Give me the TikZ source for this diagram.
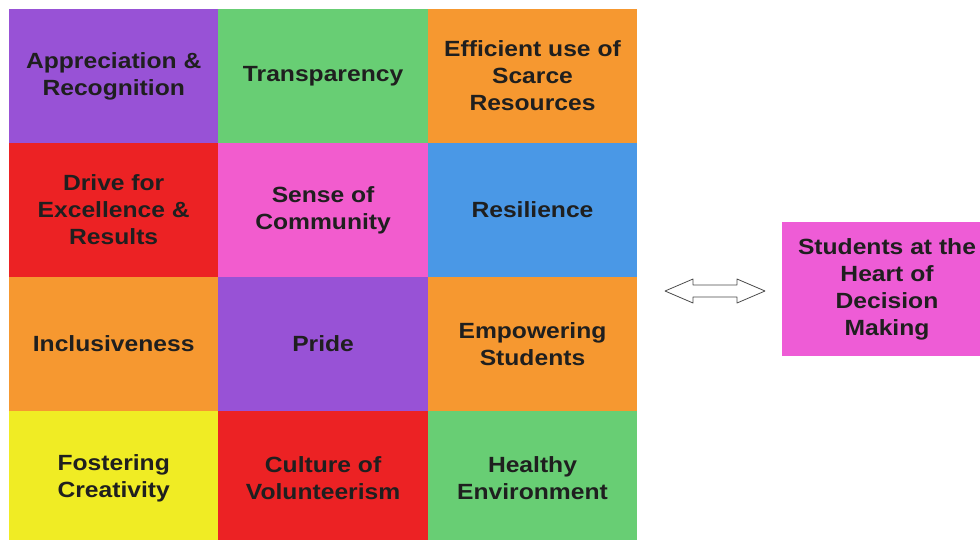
\documentclass[tikz,border=0pt]{standalone}
\usepackage{fontspec}
\setmainfont[FakeStretch=1.12]{Liberation Sans}
\usetikzlibrary{positioning}
\definecolor{valPurple}{RGB}{152,82,214}
\definecolor{valGreen}{RGB}{104,206,116}
\definecolor{valOrange}{RGB}{246,152,48}
\definecolor{valRed}{RGB}{236,34,36}
\definecolor{valPink}{RGB}{242,92,206}
\definecolor{valBlue}{RGB}{74,152,230}
\definecolor{valYellow}{RGB}{240,236,36}
\definecolor{focusPink}{RGB}{238,92,214}
\tikzset{
  value/.style={
    rectangle, fill=#1, inner sep=0pt, outer sep=0pt,
    minimum width=209.4pt, minimum height=134pt,
    align=center, text=black!88,
    font=\fontsize{22}{27}\selectfont\bfseries
  },
  link/.style={draw=black!70, thick, fill=white, line join=round}
}

\begin{document}
\begin{tikzpicture}[x=1pt, y=-1pt, node distance=0pt]
\useasboundingbox (0,0) rectangle (980,539);
\clip (0,0) rectangle (980,539);

% grid of values
\node[value=valPurple] (appreciation) at (113.7,76) {Appreciation \&\\Recognition};
\node[value=valGreen, right=of appreciation] (transparency) {Transparency};
\node[value=valOrange, right=of transparency] (efficient) {Efficient use of\\Scarce\\Resources};
\node[value=valRed, below=of appreciation] (drive) {Drive for\\Excellence \&\\Results};
\node[value=valPink, below=of transparency] (community) {Sense of\\Community};
\node[value=valBlue, below=of efficient] (resilience) {Resilience};
\node[value=valOrange, below=of drive] (inclusiveness) {Inclusiveness};
\node[value=valPurple, below=of community] (pride) {Pride};
\node[value=valOrange, below=of resilience] (empowering) {Empowering\\Students};
\node[value=valYellow, below=of inclusiveness] (fostering) {Fostering\\Creativity};
\node[value=valRed, below=of pride] (volunteerism) {Culture of\\Volunteerism};
\node[value=valGreen, below=of empowering] (healthy) {Healthy\\Environment};

% focus on the right
\node[value=focusPink] (students) at (887,289) {Students at the\\Heart of\\Decision\\Making};

% hollow double arrow
\coordinate (exchange) at (715,291);
\draw[link] (exchange) ++(-50,0) -- ++(28,-12) -- ++(0,6) -- ++(44,0) -- ++(0,-6)
  -- ++(28,12) -- ++(-28,12) -- ++(0,-6) -- ++(-44,0) -- ++(0,6) -- cycle;

\end{tikzpicture}
\end{document}
